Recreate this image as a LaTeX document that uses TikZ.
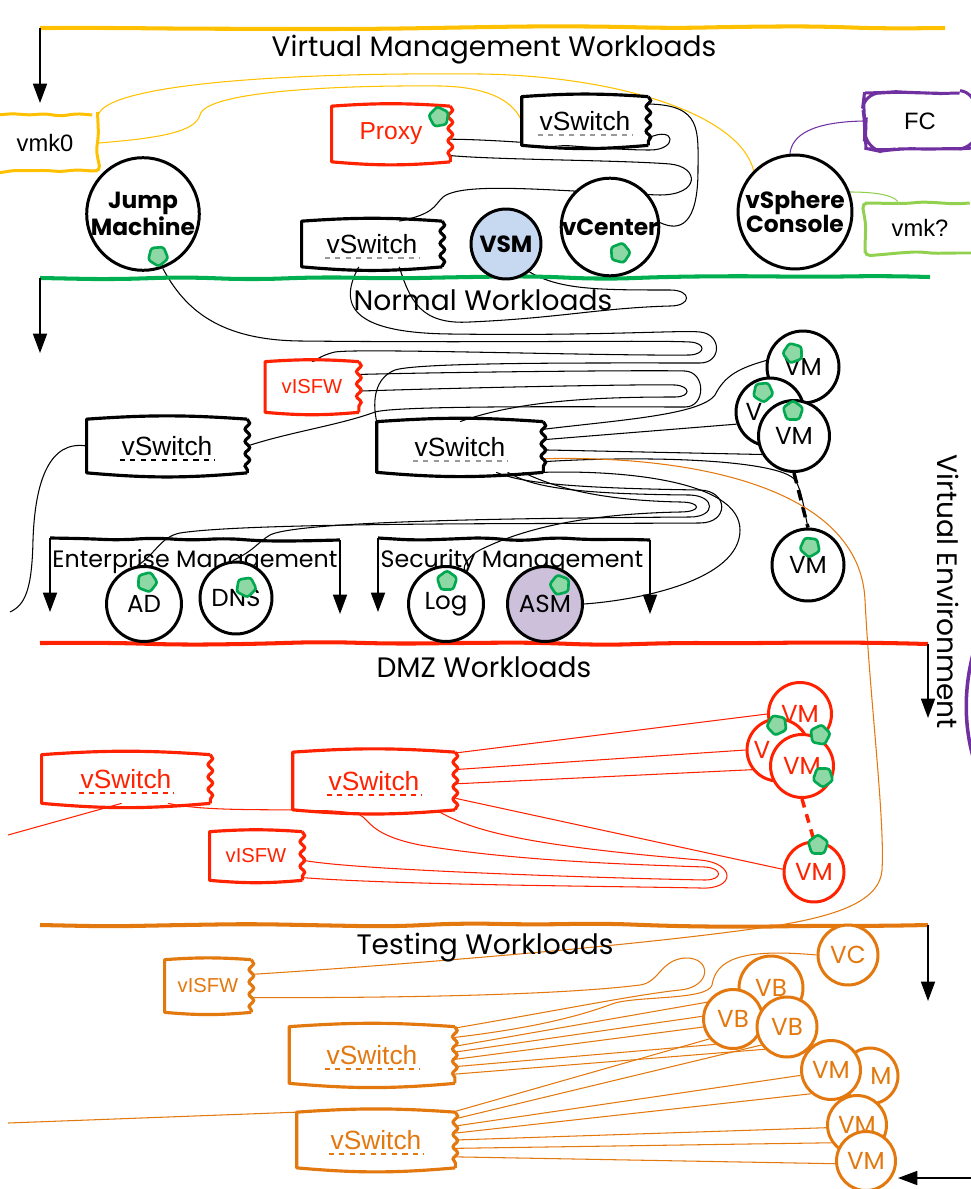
\documentclass[tikz,border=0pt]{standalone}
\usepackage{fontspec}
\setmainfont{Liberation Sans}
\newfontfamily\hand{Poppins}
\usetikzlibrary{arrows.meta,decorations.pathmorphing,backgrounds,shapes.geometric}

\definecolor{mgmtyellow}{HTML}{FFC000}
\definecolor{normgreen}{HTML}{00B050}
\definecolor{dmzred}{HTML}{FF2200}
\definecolor{testorange}{HTML}{E3780F}
\definecolor{fcpurple}{HTML}{7030A0}
\definecolor{vmklime}{HTML}{92D050}
\definecolor{vsmblue}{HTML}{C6D9F1}
\definecolor{asmlilac}{HTML}{CCC0DA}
\definecolor{tagfill}{HTML}{8ED8A6}
\definecolor{tagline}{HTML}{00A850}
\definecolor{dashgray}{HTML}{999999}

\begin{document}
\begin{tikzpicture}[x=0.02cm, y=-0.02cm]

\pgfmathsetseed{11}
\tikzstyle{sketch}=[decorate, decoration={random steps, segment length=9pt, amplitude=0.8pt}, rounded corners=3pt]
\tikzstyle{band}=[line width=2.3pt, decorate, decoration={random steps, segment length=40pt, amplitude=1.2pt}, rounded corners=15pt]
\tikzstyle{arrow}=[-{Triangle[width=8pt,length=11pt]}, line width=0.8pt]
\tikzstyle{title}=[font=\hand\fontsize{16}{18}\selectfont]
\tikzstyle{subtitle}=[font=\hand\fontsize{13.5}{15}\selectfont]
\tikzstyle{host}=[circle, draw, fill=white, line width=1.7pt, inner sep=0pt, font=\hand\fontsize{14}{15}\selectfont]
\tikzstyle{hostbf}=[host, font=\hand\bfseries\fontsize{13.3}{14}\selectfont, align=center]
\tikzstyle{port}=[rectangle, draw, fill=white, line width=1.7pt, inner sep=0pt, sketch, font=\fontsize{13.5}{15}\selectfont]
\tikzstyle{switch}=[rectangle, fill=white, inner sep=0pt, font=\fontsize{15}{17}\selectfont]
\tikzstyle{firewall}=[switch, font=\fontsize{11.5}{13}\selectfont]
\tikzstyle{tag}=[regular polygon, regular polygon sides=5, draw=tagline, fill=tagfill, line width=1.5pt, minimum size=0.42cm, inner sep=0pt, rounded corners=1.5pt]
\tikzstyle{wire}=[line width=0.6pt]

\useasboundingbox (0,0) rectangle (970,1189);

% bands
\coordinate (mgmtStart) at (40,28);
\coordinate (normStart) at (40,278);
\coordinate (dmzEnd) at (928,644);
\coordinate (testEnd) at (928,925);
\draw[band, mgmtyellow] (mgmtStart) -- (945,28);
\draw[band, normgreen] (normStart) -- (930,277);
\draw[band, dmzred] (40,643) -- (dmzEnd);
\draw[band, testorange] (40,925) -- (testEnd);
\draw[arrow] (mgmtStart) -- (40,103);
\draw[arrow] (normStart) -- (40,353);
\draw[arrow] (dmzEnd) -- (928,718);
\draw[arrow] (testEnd) -- (928,1001);

\node[title] (mgmtTitle) at (494,50) {Virtual Management Workloads};
\node[title] (normTitle) at (483,300) {Normal Workloads};
\node[title] (dmzTitle) at (484,667) {DMZ Workloads};
\node[title] (testTitle) at (485,948) {Testing Workloads};
\node[title] (envTitle) at (948,592) [rotate=-90] {Virtual Environment};

% enterprise / security brackets
\coordinate (entL) at (50,538);
\coordinate (entR) at (340,540);
\coordinate (secL) at (378,538);
\coordinate (secR) at (650,540);
\draw[band, line width=1.8pt, decoration={random steps, segment length=20pt, amplitude=1.2pt}, rounded corners=8pt] (entL) -- (entR);
\draw[band, line width=1.8pt, decoration={random steps, segment length=20pt, amplitude=1.2pt}, rounded corners=8pt] (secL) -- (secR);
\foreach \c in {entL, entR, secL, secR}
  \draw[arrow] (\c) -- ++(0,74);
\node[subtitle] (entTitle) at (195,562) {Enterprise Management};
\node[subtitle] (secTitle) at (512,562) {Security Management};

% management hosts
\node[port, draw=mgmtyellow, minimum width=2.1cm, minimum height=1.12cm] (vmk) at (45,143) {vmk0};
\node[port, draw=fcpurple, rounded corners=9pt, minimum width=2.2cm, minimum height=1.12cm] (fc) at (920,121) {FC};
\node[port, draw=vmklime, minimum width=2.2cm, minimum height=1cm] (vmkq) at (920,228) {vmk?};
\node[switch, text=dmzred, minimum width=2.36cm, minimum height=1.1cm, font=\fontsize{14}{16}\selectfont] (proxy) at (391,134) {Proxy};
\node[switch, minimum width=2.52cm, minimum height=0.96cm] (swTop) at (585,121) {vSwitch};
\node[switch, minimum width=2.8cm, minimum height=0.9cm] (swMgmt) at (372,244) {vSwitch};
\node[hostbf, minimum size=2.14cm] (jump) at (143,214) {Jump\\Machine};
\node[hostbf, minimum size=1.9cm] (vcenter) at (610,227) {vCenter};
\node[hostbf, fill=vsmblue, minimum size=1.4cm] (vsm) at (506,244) {VSM};
\node[hostbf, minimum size=2.28cm] (vsphere) at (795,212) {vSphere\\Console};

% normal workloads
\node[firewall, text=dmzred, minimum width=1.86cm, minimum height=1cm] (fwNorm) at (312,387) {vISFW};
\node[switch, minimum width=3.2cm, minimum height=1.06cm] (swLeft) at (167,446) {vSwitch};
\node[switch, minimum width=3.32cm, minimum height=1cm] (swMain) at (460,447) {vSwitch};
\node[host, minimum size=1.44cm] (vm1) at (803,367) {VM};
\node[host, minimum size=1.36cm] (vm2) at (770,412) {V\hspace*{1.3em}};
\node[host, minimum size=1.42cm] (vm3) at (794,436) {VM};
\node[host, minimum size=1.44cm] (vm4) at (808,565) {VM};
\node[host, minimum size=1.5cm] (ad) at (144,604) {AD};
\node[host, minimum size=1.44cm] (dns) at (236,598) {DNS};
\node[host, minimum size=1.5cm] (log) at (446,604) {Log};
\node[host, fill=asmlilac, minimum size=1.5cm] (asm) at (545,604) {ASM};

% dmz workloads
\node[switch, text=dmzred, minimum width=3.36cm, minimum height=0.96cm] (swDmzL) at (126,779) {vSwitch};
\node[switch, text=dmzred, minimum width=3.24cm, minimum height=1.14cm] (swDmzR) at (374,781) {vSwitch};
\node[firewall, text=dmzred, minimum width=1.84cm, minimum height=0.96cm] (fwDmz) at (256,856) {vISFW};
\node[host, draw=dmzred, text=dmzred, minimum size=1.26cm] (rvm1) at (800,714) {VM};
\node[host, draw=dmzred, text=dmzred, minimum size=1.24cm] (rvm2) at (778,750) {V\hspace*{1.3em}};
\node[host, draw=dmzred, text=dmzred, minimum size=1.26cm] (rvm3) at (802,766) {VM};
\node[host, draw=dmzred, text=dmzred, minimum size=1.2cm] (rvm4) at (814,872) {VM};

% testing workloads
\node[firewall, text=testorange, minimum width=1.72cm, minimum height=1.04cm] (fwTest) at (208,986) {vISFW};
\node[switch, text=testorange, minimum width=3.3cm, minimum height=1.12cm] (swTestA) at (372,1055) {vSwitch};
\node[switch, text=testorange, minimum width=3.16cm, minimum height=1.1cm] (swTestB) at (376,1140) {vSwitch};
\node[host, draw=testorange, text=testorange, minimum size=1.2cm] (vc) at (848,955) {VC};
\node[host, draw=testorange, text=testorange, minimum size=1.28cm] (vb1) at (771,988) {VB};
\node[host, draw=testorange, text=testorange, minimum size=1.18cm] (vb2) at (733,1019) {VB};
\node[host, draw=testorange, text=testorange, minimum size=1.2cm] (vb3) at (787,1027) {VB};
\node[host, draw=testorange, text=testorange, minimum size=1.12cm] (tvm0) at (870,1076) {\hspace*{0.9em}M};
\node[host, draw=testorange, text=testorange, minimum size=1.18cm] (tvm1) at (831,1070) {VM};
\node[host, draw=testorange, text=testorange, minimum size=1.18cm] (tvm2) at (857,1125) {VM};
\node[host, draw=testorange, text=testorange, minimum size=1.18cm] (tvm3) at (866,1161) {VM};

% switch outlines, wavy right side
\foreach \n/\c in {proxy/dmzred, swTop/black, swMgmt/black, swLeft/black, swMain/black, fwNorm/dmzred,
                   swDmzL/dmzred, swDmzR/dmzred, fwDmz/dmzred, fwTest/testorange, swTestA/testorange, swTestB/testorange} {
  \draw[\c, line width=1.8pt, line join=round] (\n.north east) to[bend right=4] (\n.north west) -- (\n.south west) to[bend right=5] (\n.south east);
  \draw[\c, line width=1.8pt, decorate, decoration={snake, amplitude=1.3pt, segment length=7pt}] (\n.north east) -- (\n.south east);
}
\foreach \n/\c in {swTop/dashgray, swMgmt/dashgray, swLeft/black, swMain/dashgray,
                   swDmzL/dmzred, swDmzR/dmzred, swTestA/testorange, swTestB/testorange}
  \draw[\c, dashed, line width=0.9pt] ([xshift=-0.95cm, yshift=-8pt]\n.center) -- ([xshift=0.95cm, yshift=-8pt]\n.center);

% green tags
\node[tag, rotate=10] (tagProxy) at (439,117) {};
\node[tag, rotate=40] (tagJump) at (158,256) {};
\node[tag, rotate=-15] (tagCenter) at (620,253) {};
\node[tag, rotate=20] (tagVmA) at (793,353) {};
\node[tag, rotate=-30] (tagVmB) at (763,392) {};
\node[tag] (tagVmC) at (793,411) {};
\node[tag, rotate=30] (tagVmD) at (810,547) {};
\node[tag, rotate=-20] (tagAd) at (147,582) {};
\node[tag, rotate=45] (tagDns) at (246,587) {};
\node[tag] (tagLog) at (447,581) {};
\node[tag, rotate=15] (tagAsm) at (560,585) {};
\node[tag, rotate=25] (tagRvmA) at (777,725) {};
\node[tag, rotate=-10] (tagRvmB) at (820,735) {};
\node[tag, rotate=35] (tagRvmC) at (823,777) {};
\node[tag] (tagRvmD) at (818,845) {};

\coordinate (edgeNorm) at (10,612);
\coordinate (edgeDmz) at (8,835);
\coordinate (edgeTest) at (8,1123);
\coordinate (inTail) at (972,1178);
\coordinate (inHead) at (898,1178);
\draw[arrow] (inTail) -- (inHead);
\draw[fcpurple, line width=2pt] (980,632) .. controls (962,680) and (962,730) .. (978,772);

\begin{pgfonlayer}{background}
% management wiring
\draw[wire, mgmtyellow] (vmk.north east) .. controls (110,88) and (250,72) .. (480,74) .. controls (620,76) and (740,115) .. (vsphere.135);
\draw[wire, mgmtyellow] (vmk.east) .. controls (160,138) and (195,132) .. (200,115) .. controls (205,92) and (330,85) .. (440,86) .. controls (495,87) and (515,105) .. (swTop.west);
\draw[wire, fcpurple] (fc.west) .. controls (812,122) and (792,135) .. (vsphere.95);
\draw[wire, vmklime] (vsphere.20) .. controls (875,192) and (893,195) .. (vmkq.130);
\draw[wire] (swTop.15) .. controls (702,105) and (698,130) .. (698,170) .. controls (698,225) and (680,232) .. (vcenter.5);
\draw[wire] (proxy.-5) .. controls (520,140) and (600,150) .. (650,150) .. controls (678,150) and (676,125) .. (swTop.-15);
\draw[wire] (proxy.-20) .. controls (500,160) and (620,160) .. (670,164) .. controls (700,167) and (700,195) .. (660,195) .. controls (560,192) and (460,180) .. (442,198) .. controls (434,206) and (434,214) .. (swMgmt.40);
\draw[wire] (vsm.-50) .. controls (560,290) and (600,290) .. (670,290) .. controls (692,290) and (692,306) .. (670,306) .. controls (600,308) and (560,318) .. (470,322) .. controls (420,325) and (410,300) .. (swMgmt.-40);
\draw[wire] (swMgmt.-120) .. controls (335,310) and (360,333) .. (450,334) .. controls (600,336) and (680,330) .. (700,332) .. controls (722,334) and (722,363) .. (700,363) .. controls (600,363) and (420,362) .. (395,370) .. controls (375,378) and (372,400) .. (swMain.north west);
\draw[wire] (jump.-70) .. controls (185,310) and (220,340) .. (300,341) .. controls (500,343) and (650,340) .. (690,342) .. controls (706,343) and (706,354) .. (690,355) .. controls (600,356) and (360,348) .. (335,352) .. controls (318,356) and (315,362) .. (fwNorm.north);

% normal wiring
\draw[wire] (fwNorm.15) .. controls (450,372) and (650,370) .. (685,371) .. controls (706,372) and (706,407) .. (685,407) .. controls (600,407) and (400,405) .. (375,412) .. controls (340,425) and (290,432) .. (swLeft.east);
\draw[wire] (fwNorm.-5) .. controls (450,388) and (640,384) .. (675,385) .. controls (691,386) and (691,397) .. (675,397) .. controls (600,397) and (520,400) .. (swMain.north);
\draw[wire] (swMain.12) .. controls (620,420) and (700,415) .. (715,395) .. controls (725,375) and (740,368) .. (vm1.170);
\draw[wire] (swMain.5) -- (vm2.-160);
\draw[wire] (swMain.-2) -- (vm3.-150);
\draw[wire] (swMain.-10) .. controls (650,455) and (780,460) .. (795,480) .. controls (802,490) and (804,510) .. (vm4.north);
\draw[line width=2pt, dash pattern=on 6pt off 4pt] (vm3.south) -- (vm4.north);
\draw[wire] (swMain.-35) .. controls (520,482) and (560,488) .. (700,490) .. controls (729,491) and (729,523) .. (700,523) .. controls (550,524) and (250,522) .. (180,533) .. controls (160,537) and (155,555) .. (ad.100);
\draw[wire] (swMain.-28) .. controls (530,485) and (560,494) .. (690,495) .. controls (716,496) and (716,517) .. (690,517) .. controls (550,518) and (300,520) .. (270,535) .. controls (258,542) and (255,550) .. (dns.95);
\draw[wire] (swMain.-22) .. controls (540,480) and (580,500) .. (680,502) .. controls (702,502) and (702,512) .. (680,512) .. controls (580,514) and (520,530) .. (480,550) .. controls (465,558) and (462,570) .. (log.60);
\draw[wire] (swMain.-17) .. controls (620,470) and (740,480) .. (740,530) .. controls (740,580) and (640,600) .. (asm.east);
\draw[wire] (swLeft.west) .. controls (50,440) and (35,480) .. (33,540) .. controls (32,590) and (25,605) .. (edgeNorm);
\draw[wire, testorange] (swMain.-8) .. controls (700,455) and (860,490) .. (865,600) .. controls (870,700) and (885,820) .. (882,870) .. controls (880,900) and (840,915) .. (780,925) .. controls (650,945) and (400,965) .. (fwTest.15);

% dmz wiring
\draw[wire, dmzred] (swDmzR.19) -- (rvm1.180);
\draw[wire, dmzred] (swDmzR.8) -- (rvm2.180);
\draw[wire, dmzred] (swDmzR.-2) -- (rvm3.-175);
\draw[wire, dmzred] (swDmzR.-12) -- (rvm4.175);
\draw[dmzred, line width=2pt, dash pattern=on 5pt off 4pt] (rvm3.south) -- (rvm4.north);
\draw[wire, dmzred] (swDmzR.-25) .. controls (470,830) and (520,845) .. (700,860) .. controls (736,863) and (736,890) .. (700,888) .. controls (600,886) and (400,885) .. (fwDmz.-25);
\draw[wire, dmzred] (swDmzL.-30) .. controls (220,815) and (330,805) .. (360,815) .. controls (370,820) and (370,835) .. (420,845) .. controls (520,862) and (650,865) .. (705,867) .. controls (723,868) and (723,880) .. (705,880) .. controls (600,878) and (350,870) .. (fwDmz.-5);
\draw[wire, dmzred] (swDmzL.-100) -- (edgeDmz);

% testing wiring
\draw[wire, testorange] (fwTest.-15) .. controls (400,998) and (560,995) .. (640,985) .. controls (660,982) and (660,960) .. (685,958) .. controls (712,957) and (712,987) .. (680,990) .. controls (640,994) and (560,1010) .. (swTestA.18);
\draw[wire, testorange] (vc.west) .. controls (740,948) and (716,960) .. (712,985) .. controls (708,1000) and (640,996) .. (615,1003) .. controls (600,1008) and (560,1025) .. (swTestA.12);
\draw[wire, testorange] (swTestA.6) -- (vb1.-165);
\draw[wire, testorange] (swTestA.2) -- (vb2.175);
\draw[wire, testorange] (swTestA.-3) -- (vb2.-165);
\draw[wire, testorange] (swTestA.-8) -- (vb2.-125);
\draw[wire, testorange] (swTestA.-13) -- (vb3.-135);
\draw[wire, testorange] (swTestB.20) -- (vb2.-140);
\draw[wire, testorange] (swTestB.15) -- (vb3.-145);
\draw[wire, testorange] (swTestB.10) -- (tvm1.-170);
\draw[wire, testorange] (swTestB.5) -- (tvm1.-130);
\draw[wire, testorange] (swTestB.0) -- (tvm2.-175);
\draw[wire, testorange] (swTestB.-6) -- (tvm2.-145);
\draw[wire, testorange] (swTestB.-12) -- (tvm3.-175);
\draw[wire, testorange] (edgeTest) -- (swTestB.north west);
\end{pgfonlayer}

\end{tikzpicture}
\end{document}
